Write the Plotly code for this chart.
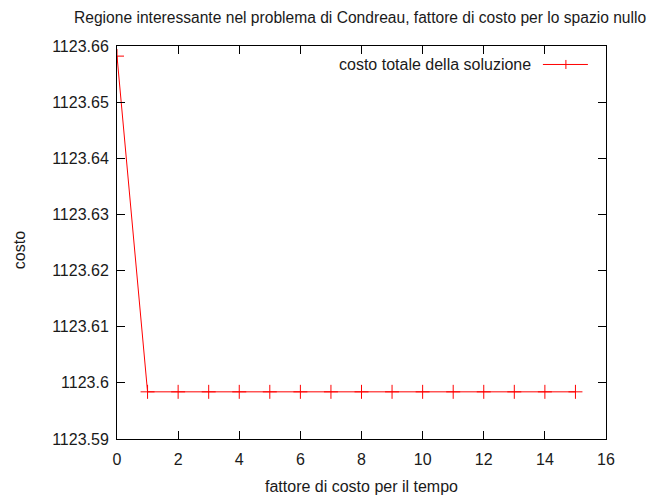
import plotly.graph_objects as go

x_vals = list(range(0, 16))
costo = [1123.6582] + [1123.5984] * 15
series_name = "costo totale della soluzione"
title = "Regione interessante nel problema di Condreau, fattore di costo per lo spazio nullo"
xlabel = "fattore di costo per il tempo"
ylabel = "costo"
y_ticks = [1123.59, 1123.60, 1123.61, 1123.62, 1123.63, 1123.64, 1123.65, 1123.66]
y_ticktext = ["1123.59", "1123.6", "1123.61", "1123.62", "1123.63", "1123.64", "1123.65", "1123.66"]
x_ticks = [0, 2, 4, 6, 8, 10, 12, 14, 16]

RED = "#ff0000"
FONT = "Liberation Sans, Arial, sans-serif"
FS = 16
TXT = "#1a1a1a"

fig = go.Figure()
fig.add_trace(go.Scatter(
    x=x_vals, y=costo, mode="lines+markers", name=series_name,
    line=dict(color=RED, width=1),
    marker=dict(symbol="cross-thin-open", size=10, line=dict(color=RED, width=1)),
    showlegend=False,
))

axis_common = dict(
    showline=True, mirror="ticks", linecolor="black", linewidth=1,
    ticks="inside", ticklen=8, tickcolor="black", tickwidth=1,
    showgrid=False, zeroline=False,
    tickfont=dict(family=FONT, size=FS, color=TXT),
)

fig.update_layout(
    width=650, height=491,
    margin=dict(l=109, r=52, t=38, b=60),
    paper_bgcolor="white", plot_bgcolor="white",
    font=dict(family=FONT, size=FS, color=TXT),
    xaxis=dict(range=[0, 16], tickvals=x_ticks, ticklabelstandoff=6, **axis_common),
    yaxis=dict(range=[1123.59, 1123.66], tickvals=y_ticks, ticktext=y_ticktext,
               ticklabelstandoff=4, **axis_common),
    showlegend=False,
)

# title
fig.add_annotation(text=title, xref="paper", yref="paper", x=0.496, y=1.0, yshift=29,
                   showarrow=False, xanchor="center", yanchor="middle",
                   font=dict(family=FONT, size=15.6, color=TXT))
# axis titles
fig.add_annotation(text=xlabel, xref="paper", yref="paper", x=0.5, y=0.0, yshift=-47,
                   showarrow=False, xanchor="center", yanchor="middle",
                   font=dict(family=FONT, size=FS, color=TXT))
fig.add_annotation(text=ylabel, xref="paper", yref="paper", x=-0.198, y=0.481, textangle=-90,
                   showarrow=False, xanchor="center", yanchor="middle",
                   font=dict(family=FONT, size=FS, color=TXT))

# gnuplot-style key: text left, sample right
fig.add_annotation(text=series_name, xref="paper", yref="paper", x=0.851, y=0.953,
                   showarrow=False, xanchor="right", yanchor="middle",
                   font=dict(family=FONT, size=FS, color=TXT))
fig.add_shape(type="line", xref="paper", yref="paper", x0=0.871, x1=0.963, y0=0.953, y1=0.953,
              line=dict(color=RED, width=1))
fig.add_shape(type="line", xref="paper", yref="paper", x0=0.918, x1=0.918, y0=0.9415, y1=0.9645,
              line=dict(color=RED, width=1))

fig.write_html("out.html")
